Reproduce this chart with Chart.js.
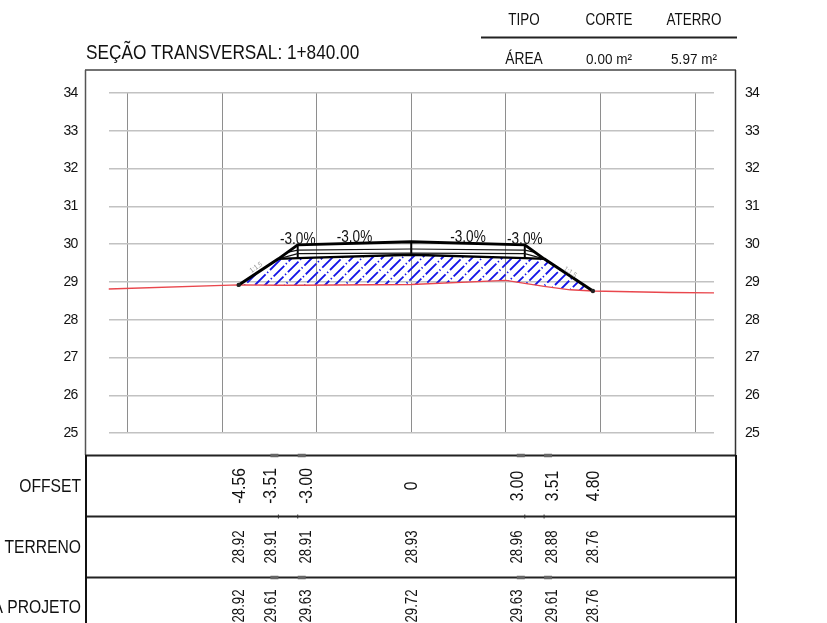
<!DOCTYPE html>
<html>
<head>
<meta charset="utf-8">
<title>Seção transversal</title>
<script src="https://cdn.jsdelivr.net/npm/chart.js@4"></script>
<style>
  html, body { margin: 0; padding: 0; background: #fff; overflow: hidden; }
  canvas { display: block; }
</style>
</head>
<body>
<canvas id="secaoChart" width="827" height="623"></canvas>
<script>
// Chart values
const yTicks = [25, 26, 27, 28, 29, 30, 31, 32, 33, 34];
const xGrid = [-7.5, -5, -2.5, 0, 2.5, 5, 7.5];

const stations = [-4.56, -3.51, -3, 0, 3, 3.51, 4.8];
const offsetLabels = ['-4.56', '-3.51', '-3.00', '0', '3.00', '3.51', '4.80'];
const terrenoLabels = ['28.92', '28.91', '28.91', '28.93', '28.96', '28.88', '28.76'];
const projetoLabels = ['28.92', '29.61', '29.63', '29.72', '29.63', '29.61', '28.76'];
const projetoCotas = [28.92, 29.61, 29.63, 29.72, 29.63, 29.61, 28.76];

const terrenoX = [-8, -4.56, -3.51, -3, 0, 2.5, 3, 3.51, 4.2, 4.8, 6.8, 8];
const terrenoY = [28.81, 28.92, 28.91, 28.91, 28.93, 29.04, 28.96, 28.88, 28.79, 28.76, 28.72, 28.71];

const pavimentoX = [-4.56, -3.51, -3, 0, 3, 3.51, 4.8];
const pavimentoY = [28.92, 29.61, 29.98, 30.06, 29.98, 29.61, 28.76];
const camada1X = [-3.25, -3, 0, 3, 3.25];
const camada1Y = [29.79, 29.84, 29.87, 29.84, 29.79];
const camada2X = [-3.51, -3, 0, 3, 3.51];
const camada2Y = [29.61, 29.75, 29.76, 29.75, 29.61];

const eixoX = [-3, 0, 3];
const eixoTopo = [29.98, 30.06, 29.98];
const eixoBase = [29.63, 29.72, 29.63];

const slopeText = ['-3.0%', '-3.0%', '-3.0%', '-3.0%'];
const slopeTextX = [-3, -1.5, 1.5, 3];
const slopeTextY = [30.12, 30.17, 30.17, 30.12];

const taludeText = ['1:1.5', '1:1.5'];
const taludeX = [-4.1, 4.2];
const taludeY = [29.38, 29.26];

const FONT = '"Liberation Sans", Arial, sans-serif';

function pts(xs, ys) {
  return xs.map((x, i) => ({ x: x, y: ys[i] }));
}

// Blue dash-dot hatch for the fill area
function hatchPattern() {
  const tile = document.createElement('canvas');
  tile.width = 60;
  tile.height = 60;
  const c = tile.getContext('2d');
  const phase = [0, 9, 3, 15, 6, 18]; // so the gaps do not line up
  c.strokeStyle = '#1414e6';
  c.lineWidth = 1.8;
  c.setLineDash([15, 2.3, 1.3, 2.61]);
  for (let k = -6; k <= 5; k++) {
    c.lineDashOffset = phase[(k + 6) % 6];
    c.beginPath();
    c.moveTo(k * 10, 60);
    c.lineTo(k * 10 + 60, 0);
    c.stroke();
  }
  return c.createPattern(tile, 'repeat');
}

// The sheet uses a narrow Arial, so the text is squeezed along its own direction
function text(ctx, str, x, y, size, squeeze, align, rotate, color) {
  ctx.save();
  ctx.letterSpacing = '0px';
  ctx.translate(x, y);
  if (rotate) ctx.rotate(rotate);
  ctx.scale(squeeze, 1);
  ctx.font = size + 'px ' + FONT;
  ctx.textAlign = align || 'center';
  ctx.textBaseline = 'middle';
  ctx.fillStyle = color || '#111';
  ctx.fillText(str, 0, 0);
  ctx.restore();
}

function hline(ctx, x1, x2, y, width, color) {
  ctx.beginPath();
  ctx.moveTo(x1, y);
  ctx.lineTo(x2, y);
  ctx.lineWidth = width;
  ctx.strokeStyle = color;
  ctx.stroke();
}

function vline(ctx, x, y1, y2, width, color) {
  ctx.beginPath();
  ctx.moveTo(x, y1);
  ctx.lineTo(x, y2);
  ctx.lineWidth = width;
  ctx.strokeStyle = color;
  ctx.stroke();
}

// Frame, header and the table under the section
const sheetPlugin = {
  id: 'sheet',
  beforeDraw(chart) {
    chart.ctx.letterSpacing = '-0.8px'; // tick labels
  },
  afterDraw(chart) {
    const ctx = chart.ctx;
    const xs = chart.scales.x;
    const ys = chart.scales.y;

    text(ctx, 'SEÇÃO TRANSVERSAL: 1+840.00', 86, 53, 21, 0.82, 'left');
    text(ctx, 'TIPO', 524, 21, 16, 0.84);
    text(ctx, 'CORTE', 609, 21, 16, 0.84);
    text(ctx, 'ATERRO', 694, 21, 16, 0.84);
    text(ctx, 'ÁREA', 524, 60, 16, 0.86);
    text(ctx, '0.00 m²', 609, 60, 15, 0.9);
    text(ctx, '5.97 m²', 694, 60, 15, 0.9);
    hline(ctx, 481, 737, 37.5, 2, '#222');

    hline(ctx, 85, 736, 70, 1.5, '#444');
    vline(ctx, 85.5, 70, 455, 1.5, '#555');
    vline(ctx, 735.5, 70, 455, 1.5, '#333');

    [455.5, 516.5, 577.5].forEach(y => hline(ctx, 85, 736, y, 2, '#222'));
    vline(ctx, 86, 455, 623, 2, '#111');
    vline(ctx, 736, 455, 623, 2, '#111');

    text(ctx, 'OFFSET', 81, 487, 18, 0.87, 'right');
    text(ctx, 'L TERRENO', 81, 548, 18, 0.87, 'right');
    text(ctx, 'A PROJETO', 81, 608, 18, 0.87, 'right');

    // crowded stations are nudged apart in the table, with a short leader, as on the sheet
    const nudge = [0, -8, 8, 0, -8, 8, 0];
    stations.forEach((s, i) => {
      const px = xs.getPixelForValue(s);
      const lx = px + nudge[i] + 1;
      text(ctx, offsetLabels[i], lx, 486, 18, 0.87, 'center', -Math.PI / 2);
      text(ctx, terrenoLabels[i], lx, 547, 16, 0.83, 'center', -Math.PI / 2);
      text(ctx, projetoLabels[i], lx, 606, 16, 0.83, 'center', -Math.PI / 2);
      if (nudge[i] !== 0) {
        hline(ctx, px, px + nudge[i], 455.5, 3.5, '#666');
        hline(ctx, px, px + nudge[i], 577.5, 3.5, '#666');
        vline(ctx, px, 514.5, 518.5, 1, '#333');
      }
    });

    slopeText.forEach((t, i) => {
      text(ctx, t, xs.getPixelForValue(slopeTextX[i]), ys.getPixelForValue(slopeTextY[i]), 16, 0.85);
    });
    text(ctx, taludeText[0], xs.getPixelForValue(taludeX[0]), ys.getPixelForValue(taludeY[0]), 7, 0.9, 'center', -0.6, '#9a9a9a');
    text(ctx, taludeText[1], xs.getPixelForValue(taludeX[1]), ys.getPixelForValue(taludeY[1]), 7, 0.9, 'center', 0.6, '#9a9a9a');
  }
};

new Chart(document.getElementById('secaoChart'), {
  type: 'scatter',
  plugins: [sheetPlugin],
  data: {
    datasets: [
      // pavement outline with the end dots
      {
        data: pts(pavimentoX, pavimentoY),
        showLine: true,
        borderColor: '#000',
        borderWidth: 3,
        pointBackgroundColor: '#222',
        pointBorderWidth: 0,
        pointRadius: c => (c.dataIndex === 0 || c.dataIndex === pavimentoX.length - 1) ? 2.2 : 0
      },
      {
        data: pts(camada1X, camada1Y),
        showLine: true,
        borderColor: '#111',
        borderWidth: 1.2,
        pointRadius: 0
      },
      {
        data: pts(camada2X, camada2Y),
        showLine: true,
        borderColor: '#111',
        borderWidth: 1.2,
        pointRadius: 0
      },
      {
        data: pts(stations.slice(1, -1), projetoCotas.slice(1, -1)),
        showLine: true,
        borderColor: '#000',
        borderWidth: 2.4,
        pointRadius: 0
      },
      ...eixoX.map((x, i) => ({
        data: [{ x: x, y: eixoTopo[i] }, { x: x, y: eixoBase[i] }],
        showLine: true,
        borderColor: '#000',
        borderWidth: 2,
        pointRadius: 0
      })),
      // ground line
      {
        data: pts(terrenoX, terrenoY),
        showLine: true,
        borderColor: '#e9474d',
        borderWidth: 1.4,
        pointRadius: 0
      },
      // fill area, from the project line down to the ground line
      {
        data: pts(stations, projetoCotas),
        showLine: true,
        borderColor: 'rgba(0,0,0,0)',
        borderWidth: 0,
        pointRadius: 0,
        backgroundColor: hatchPattern(),
        fill: '-1'
      }
    ]
  },
  options: {
    responsive: false,
    animation: false,
    events: [],
    layout: { padding: { top: 93, bottom: 190, left: 0, right: 0 } },
    plugins: { legend: { display: false }, tooltip: { enabled: false } },
    scales: {
      x: {
        type: 'linear',
        min: -8,
        max: 8,
        border: { display: false },
        grid: { color: '#8e8e8e', lineWidth: 1, drawTicks: false },
        ticks: { display: false },
        afterBuildTicks(scale) {
          scale.ticks = xGrid.map(v => ({ value: v }));
        },
        afterFit(scale) { scale.height = 0; }
      },
      y: {
        position: 'left',
        min: 25,
        max: 34,
        border: { display: false },
        grid: { color: '#c2c2c2', lineWidth: 1.4, drawTicks: false },
        ticks: {
          padding: 31,
          color: '#111',
          font: { family: FONT, size: 14 },
          autoSkip: false,
          stepSize: 1
        },
        afterBuildTicks(scale) {
          scale.ticks = yTicks.map(v => ({ value: v }));
        },
        afterFit(scale) { scale.width = 108.5; }
      },
      y2: {
        position: 'right',
        min: 25,
        max: 34,
        border: { display: false },
        grid: { display: false, drawTicks: false },
        ticks: {
          padding: 31,
          color: '#111',
          font: { family: FONT, size: 14 },
          autoSkip: false,
          stepSize: 1
        },
        afterBuildTicks(scale) {
          scale.ticks = yTicks.map(v => ({ value: v }));
        },
        afterFit(scale) { scale.width = 113; }
      }
    }
  }
});
</script>
</body>
</html>
